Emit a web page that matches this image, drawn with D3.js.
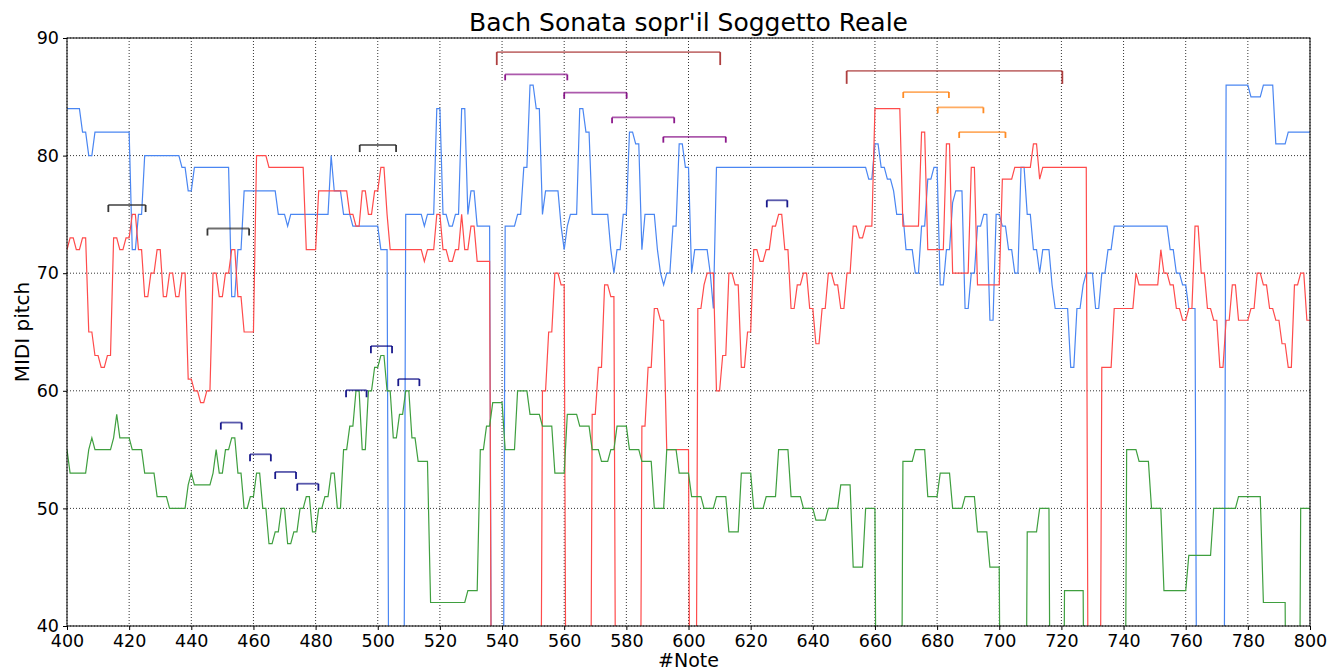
<!DOCTYPE html>
<html>
<head>
<meta charset="utf-8">
<script src="https://cdn.jsdelivr.net/npm/d3@7"></script>
<style>
body { margin: 0; background: #fff; }
text { font-family: "DejaVu Sans", sans-serif; }
</style>
</head>
<body>
<div id="canvas"></div>
<script>
// pitch per voice, written as [note where it changes, new MIDI pitch]; 0 = rest
var sopranoChanges = [[400,84],[405,82],[407,80],[409,82],[421,72],[423,75],[425,80],[437,79],[439,77],[441,79],[453,68],[455,72],[457,77],[468,75],[471,74],[472,75],[485,80],[486,77],[489,75],[492,74],[501,72],[504,0],[509,75],[515,74],[516,75],[519,84],[521,75],[523,74],[525,75],[527,84],[529,75],[530,77],[532,74],[537,0],[541,74],[545,75],[547,79],[549,86],[551,84],[553,75],[554,77],[559,74],[560,72],[561,74],[562,75],[565,84],[567,82],[569,75],[575,72],[576,70],[577,72],[579,75],[581,82],[583,81],[585,72],[586,75],[590,72],[591,70],[592,69],[593,70],[595,74],[597,81],[599,79],[601,70],[602,72],[607,70],[608,67],[609,79],[658,78],[660,81],[662,79],[664,78],[666,77],[667,75],[670,72],[673,70],[675,74],[677,78],[679,79],[681,69],[683,72],[685,76],[686,77],[689,67],[691,70],[693,74],[695,75],[697,66],[699,75],[701,74],[703,72],[705,70],[707,79],[709,75],[711,72],[713,70],[714,72],[717,69],[718,67],[723,62],[725,67],[727,69],[728,70],[731,67],[733,70],[735,72],[737,74],[755,72],[757,70],[759,69],[761,67],[764,0],[773,86],[781,85],[785,86],[789,81],[793,82]];

var altoChanges = [[400,72],[401,73],[403,72],[405,73],[407,65],[409,63],[411,62],[413,63],[415,73],[417,72],[419,73],[421,75],[423,72],[425,68],[427,70],[429,72],[431,68],[433,70],[435,68],[437,70],[439,61],[441,60],[443,59],[445,60],[447,70],[449,68],[451,70],[453,72],[455,68],[457,65],[461,80],[465,79],[477,72],[481,77],[491,75],[493,74],[495,77],[497,75],[499,77],[501,79],[503,75],[504,72],[515,71],[516,72],[519,75],[521,72],[523,71],[525,72],[527,75],[528,72],[530,74],[532,71],[537,0],[553,60],[555,65],[557,70],[559,69],[561,0],[569,58],[571,62],[573,69],[575,68],[577,0],[585,57],[587,62],[589,67],[591,66],[593,55],[601,0],[603,67],[605,69],[606,70],[609,60],[611,63],[613,70],[615,69],[617,62],[619,65],[621,72],[623,71],[625,72],[627,74],[629,75],[631,72],[633,67],[635,69],[637,70],[639,67],[641,64],[643,67],[645,70],[647,69],[649,67],[651,70],[653,74],[655,73],[657,74],[660,84],[669,74],[675,82],[677,72],[683,81],[685,70],[691,79],[693,69],[701,78],[705,79],[711,81],[713,78],[714,79],[729,0],[733,62],[737,67],[744,70],[745,69],[752,72],[753,70],[755,69],[757,67],[759,66],[761,67],[763,74],[765,70],[767,67],[769,66],[771,62],[773,66],[775,69],[777,66],[781,67],[783,70],[785,69],[787,67],[789,66],[791,64],[793,62],[795,69],[797,70],[799,66]];

var tenorChanges = [[400,55],[401,53],[407,55],[408,56],[409,55],[415,56],[416,58],[417,56],[421,55],[425,53],[429,51],[433,50],[439,52],[440,53],[441,52],[447,53],[448,55],[449,53],[451,55],[453,56],[455,53],[457,50],[459,51],[461,53],[463,50],[465,47],[467,48],[469,50],[471,47],[473,48],[475,50],[477,51],[479,48],[481,50],[483,51],[485,53],[487,50],[489,55],[491,57],[493,60],[495,55],[497,60],[499,62],[501,63],[503,60],[505,56],[507,58],[509,60],[511,56],[513,54],[517,42],[529,43],[533,55],[535,57],[537,59],[541,55],[545,60],[549,58],[553,57],[557,53],[561,58],[565,57],[569,55],[572,54],[575,55],[577,57],[581,55],[585,54],[589,50],[593,55],[597,53],[601,51],[605,50],[609,51],[613,48],[617,53],[621,50],[625,51],[629,55],[633,51],[637,50],[641,49],[645,50],[649,52],[653,45],[657,50],[661,0],[669,54],[673,55],[677,51],[681,53],[685,50],[689,51],[693,48],[697,45],[701,0],[709,48],[713,50],[717,0],[721,43],[728,0],[741,55],[745,54],[749,50],[753,43],[761,46],[769,50],[777,51],[785,42],[793,0],[797,50]];

// pattern brackets
var bracketStart = [413.3, 445.2, 494.2, 449.5, 458.9, 467.0, 474.1, 489.8, 497.8, 506.6, 625.2, 538.3, 650.9, 541.0, 560.0, 575.4, 591.9, 669.1, 680.2, 687.1];
var bracketEnd   = [425.3, 458.6, 505.9, 456.2, 465.6, 473.7, 480.9, 496.4, 504.6, 513.4, 631.8, 610.2, 720.3, 561.0, 580.1, 595.4, 612.0, 683.8, 694.9, 702.0];
var bracketPitch = [75.8, 73.8, 80.9, 57.3, 54.6, 53.1, 52.1, 60.05, 63.8, 61.0, 76.2, 88.8, 87.2, 86.9, 85.35, 83.25, 81.6, 85.4, 84.1, 82.0];
var bracketKind  = ['black','black','black','navy','navy','navy','navy','navy','navy','navy','navy','brown','brown','purple','purple','purple','purple','orange','orange','orange'];

var xTicks = [400,420,440,460,480,500,520,540,560,580,600,620,640,660,680,700,720,740,760,780,800];
var yTicks = [40,50,60,70,80,90];

var kindStyle = {
    black:  {color:'#222222', drop:0.6},
    navy:   {color:'#000080', drop:0.6},
    brown:  {color:'#a52a2a', drop:1.1},
    purple: {color:'#800080', drop:0.5},
    orange: {color:'#ff7f0e', drop:0.5}
};

var W = 1330, H = 670;
var m = {t:38, r:20, b:44, l:67},
    w = W - m.l - m.r,
    h = H - m.t - m.b;

function expand(changes) {
    var out = [];
    for (var i = 0; i < changes.length; i++) {
        var end = i + 1 < changes.length ? changes[i+1][0] : 801;
        for (var n = changes[i][0]; n < end; n++) out.push({note:n, pitch:changes[i][1]});
    }
    return out;
}

var voices = [
    {name:'soprano', color:'#4a86f2', data:expand(sopranoChanges)},
    {name:'alto',    color:'#ff4b4b', data:expand(altoChanges)},
    {name:'tenor',   color:'#3f9f3f', data:expand(tenorChanges)}
];

var svg = d3.select('#canvas')
    .append('svg')
    .attr('width', W)
    .attr('height', H);

var plot = svg.append('g')
    .attr('transform','translate('+m.l+','+m.t+')');

var x = d3.scaleLinear().domain([400,800]).range([0,w]);
var y = d3.scaleLinear().domain([40,90]).range([h,0]);

svg.append('defs').append('clipPath').attr('id','clip')
    .append('rect').attr('width', w).attr('height', h);

// grid
plot.selectAll('.vgrid').data(xTicks).enter().append('line')
    .attr('x1', d => x(d)).attr('x2', d => x(d))
    .attr('y1', 0).attr('y2', h)
    .attr('stroke','#000').attr('stroke-width',0.8)
    .attr('stroke-dasharray','1,2');
plot.selectAll('.hgrid').data(yTicks).enter().append('line')
    .attr('y1', d => y(d)).attr('y2', d => y(d))
    .attr('x1', 0).attr('x2', w)
    .attr('stroke','#000').attr('stroke-width',0.8)
    .attr('stroke-dasharray','1,2');

var line = d3.line()
    .x(d => x(d.note))
    .y(d => y(d.pitch));

var lines = plot.append('g').attr('clip-path','url(#clip)');
voices.forEach(function(v){
    lines.append('path')
        .datum(v.data)
        .attr('fill','none')
        .attr('stroke', v.color)
        .attr('stroke-width',1.2)
        .attr('d', line);
});

// brackets
var br = plot.append('g');
bracketStart.forEach(function(s, i){
    var st = kindStyle[bracketKind[i]],
        e = bracketEnd[i], p = bracketPitch[i];
    br.append('line')
        .attr('x1', x(s)).attr('x2', x(e))
        .attr('y1', y(p)).attr('y2', y(p))
        .attr('stroke', st.color).attr('stroke-width',1.8)
        .attr('stroke-opacity',0.65);
    [s, e].forEach(function(t){
        br.append('line')
            .attr('x1', x(t)).attr('x2', x(t))
            .attr('y1', y(p)).attr('y2', y(p - st.drop))
            .attr('stroke', st.color).attr('stroke-width',1.8)
            .attr('stroke-opacity',0.9);
    });
});

// axes
var xAxis = plot.append('g')
    .attr('transform','translate(0,'+h+')')
    .call(d3.axisBottom(x).tickValues(xTicks).tickSize(4).tickSizeOuter(0).tickPadding(5));
var yAxis = plot.append('g')
    .call(d3.axisLeft(y).tickValues(yTicks).tickSize(4).tickSizeOuter(0).tickPadding(4));
[xAxis, yAxis].forEach(function(a){
    a.selectAll('text').attr('font-size','17.5px').attr('fill','#000')
        .attr('font-family','"DejaVu Sans", sans-serif');
    a.select('.domain').remove();
});

plot.append('rect')
    .attr('width', w).attr('height', h)
    .attr('fill','none').attr('stroke','#000').attr('stroke-width',1);

svg.append('text')
    .attr('x', m.l + w/2).attr('y', 31)
    .attr('text-anchor','middle')
    .attr('font-size','25px')
    .text("Bach Sonata sopr'il Soggetto Reale");

svg.append('text')
    .attr('x', m.l + w/2).attr('y', 667)
    .attr('text-anchor','middle')
    .attr('font-size','19px')
    .text('#Note');

svg.append('text')
    .attr('transform','translate(29,'+(m.t + h/2)+') rotate(-90)')
    .attr('text-anchor','middle')
    .attr('font-size','20px')
    .text('MIDI pitch');
</script>
</body>
</html>
